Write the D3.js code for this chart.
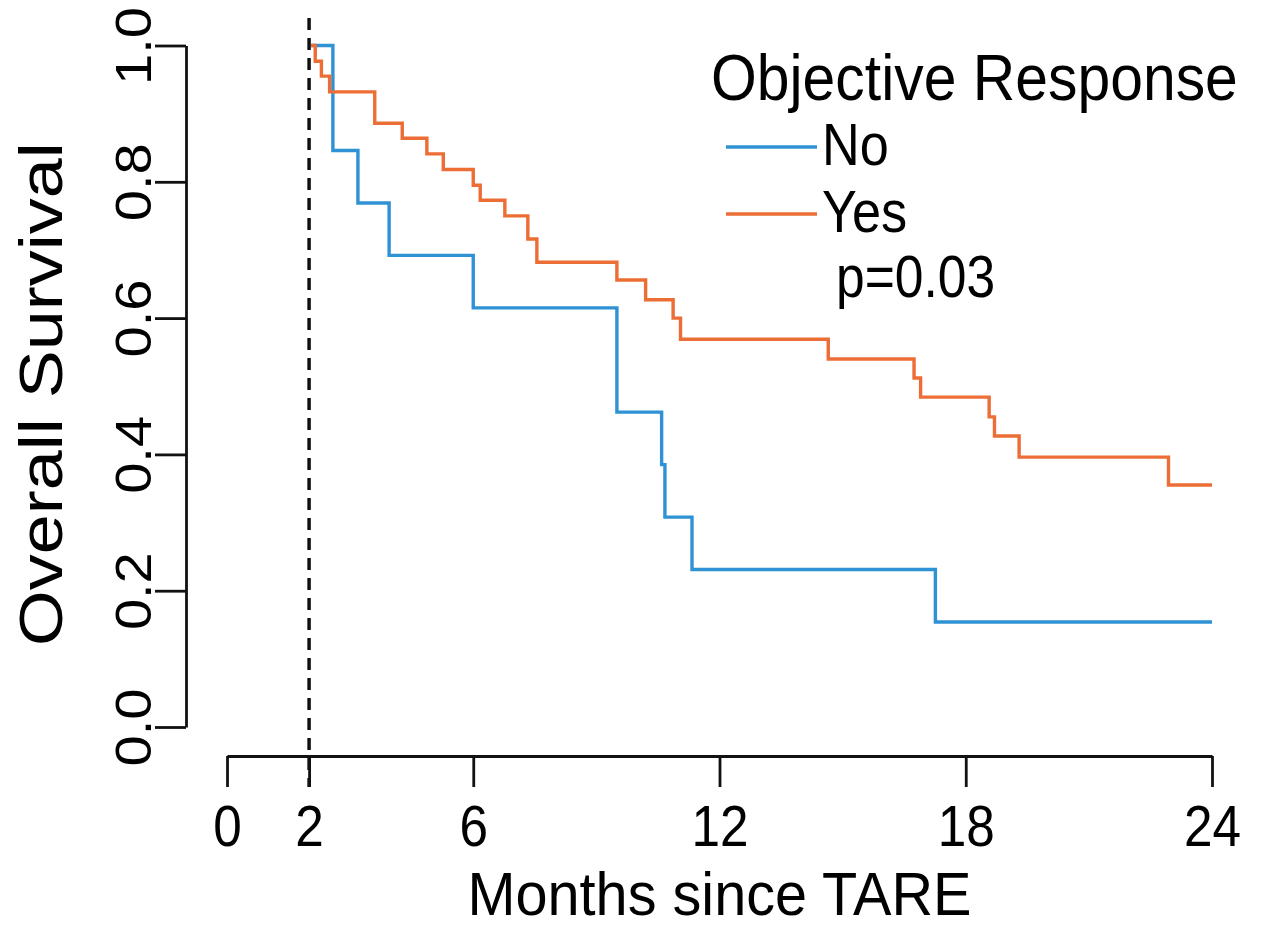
<!DOCTYPE html>
<html>
<head>
<meta charset="utf-8">
<script src="https://cdn.jsdelivr.net/npm/d3@7"></script>
<style>
  body { margin: 0; background: #fff; }
  svg { display: block; font-family: "Liberation Sans", Arial, sans-serif; }
  .axis path, .axis line { stroke: #111; stroke-width: 2.8; }
  .axis text { fill: #000; font-family: "Liberation Sans", Arial, sans-serif; }
</style>
</head>
<body>
<div id="chart"></div>
<script>
// Kaplan-Meier steps (months, survival)
var noTimes = [2.05, 2.58, 3.19, 3.95, 6.0, 9.5, 10.59, 10.67, 11.33, 17.26, 24];
var noSurv = [1.0, 0.846, 0.769, 0.692, 0.615, 0.462, 0.385, 0.308, 0.231, 0.154, 0.154];

var yesTimes = [2.05, 2.15, 2.3, 2.5, 3.6, 4.27, 4.87, 5.27, 6.0, 6.17, 6.77, 7.33, 7.55,
  9.5, 10.2, 10.87, 11.05, 14.65, 16.74, 16.9, 18.57, 18.7, 19.3, 22.94, 24];
var yesSurv = [1.0, 0.977, 0.955, 0.932, 0.886, 0.864, 0.841, 0.818, 0.795, 0.773, 0.75, 0.716, 0.682,
  0.656, 0.627, 0.6, 0.569, 0.54, 0.512, 0.484, 0.455, 0.427, 0.396, 0.355, 0.355];

var xTicks = [0, 2, 6, 12, 18, 24];
var yTicks = [0, 0.2, 0.4, 0.6, 0.8, 1.0];
var groups = ["No", "Yes"];
var colors = ["#2f92d4", "#ec6d35"];
var pValue = "p=0.03";

var width = 1267, height = 929;
var margin = { top: 45.5, right: 55, bottom: 202, left: 186 };
// the source image is a bit squeezed sideways, so text is narrowed
var squeeze = 0.9;

var svg = d3.select("#chart")
  .append("svg")
  .attr("width", width)
  .attr("height", height);

var xScale = d3.scaleLinear().domain([0, 24]).range([margin.left + 41, width - margin.right]);
var yScale = d3.scaleLinear().domain([0, 1]).range([height - margin.bottom, margin.top]);

function label(txt, x, y, size, k, anchor, rotate) {
  return svg.append("text")
    .text(txt)
    .attr("transform", "translate(" + x + "," + y + ") scale(" + k + ",1)" + (rotate ? " rotate(-90)" : ""))
    .attr("text-anchor", anchor || "start")
    .style("font-size", size + "px");
}

// y axis (R style, labels parallel to axis)
var yAxis = svg.append("g")
  .attr("class", "axis")
  .attr("transform", "translate(" + margin.left + ",0)")
  .call(d3.axisLeft(yScale).tickValues(yTicks).tickSize(31).tickSizeOuter(0)
    .tickFormat(d3.format(".1f")));
yAxis.selectAll("text")
  .attr("x", 0)
  .attr("dy", 0)
  .attr("y", -39)
  .attr("text-anchor", "middle")
  .style("font-size", "56px")
  .attr("transform", "scale(" + squeeze + ",1) rotate(-90)");

// x axis
var xAxisY = 756;
var xAxis = svg.append("g")
  .attr("class", "axis")
  .attr("transform", "translate(0," + xAxisY + ")")
  .call(d3.axisBottom(xScale).tickValues(xTicks).tickSize(31).tickSizeOuter(0));
xAxis.selectAll("text")
  .attr("y", 90)
  .attr("dy", 0)
  .style("font-size", "57px")
  .attr("transform", "scale(" + squeeze + ",1)");

// dashed landmark line at 2 months
svg.append("line")
  .attr("x1", xScale(2))
  .attr("x2", xScale(2))
  .attr("y1", 18)
  .attr("y2", xAxisY + 31)
  .attr("stroke", "#111")
  .attr("stroke-width", 3.5)
  .attr("stroke-dasharray", "12,8");

// survival curves
var line = d3.line()
  .x(function(d) { return xScale(d[0]); })
  .y(function(d) { return yScale(d[1]); })
  .curve(d3.curveStepAfter);

var curves = [d3.zip(noTimes, noSurv), d3.zip(yesTimes, yesSurv)];
curves.forEach(function(c, i) {
  svg.append("path")
    .datum(c)
    .attr("d", line)
    .attr("fill", "none")
    .attr("stroke", colors[i])
    .attr("stroke-width", 3.4);
});

// axis titles
label("Months since TARE", (xScale(0) + xScale(24)) / 2, 915, 62, 0.93, "middle");
label("Overall Survival", 62, (yScale(0) + yScale(1)) / 2 + 8, 72, 0.85, "middle", true);

// legend
label("Objective Response", 711, 100, 64, 0.92);

groups.forEach(function(g, i) {
  var ly = 147 + i * 67;
  svg.append("line")
    .attr("x1", 726).attr("x2", 817)
    .attr("y1", ly).attr("y2", ly)
    .attr("stroke", colors[i])
    .attr("stroke-width", 3.4);
  label(g, 822, ly + 18, 60, 0.87);
});

label(pValue, 836, 297, 60, 0.86);
</script>
</body>
</html>
